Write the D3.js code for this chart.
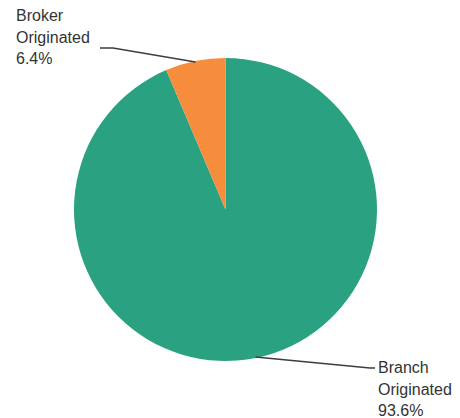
<!DOCTYPE html>
<html>
<head>
<meta charset="utf-8">
<script src="https://cdn.jsdelivr.net/npm/d3@7/dist/d3.min.js"></script>
<style>
  html, body { margin: 0; padding: 0; background: #fff; }
  svg { display: block; }
  text { font-family: "Liberation Sans", Arial, sans-serif; font-size: 16px; fill: #333; }
</style>
</head>
<body>
<svg id="chart" width="460" height="418"></svg>
<script>
// Loan origination channel share
const categories = ["Branch Originated", "Broker Originated"];
const shares = [93.6, 6.4];
const colors = ["#2aa181", "#f58d3d"];

const svg = d3.select("#chart");
const cx = 225.5, cy = 209.5, radius = 151.5;

const pie = d3.pie().sort(null).value(d => d.value);
const arcs = pie(categories.map((c, i) => ({ name: c, value: shares[i], color: colors[i] })));
const arc = d3.arc().innerRadius(0).outerRadius(radius);

const g = svg.append("g").attr("transform", `translate(${cx},${cy})`);
g.selectAll("path.slice")
  .data(arcs)
  .join("path")
  .attr("class", "slice")
  .attr("d", arc)
  .attr("fill", d => d.data.color);

// Leader lines: from slice mid-angle on the rim, out to the label
const labelLayout = [
  { lines: ["Broker", "Originated"], textX: 16, firstBaseline: 21, elbow: [113, 48], end: [100, 48], anchor: "start" },
  { lines: ["Branch", "Originated"], textX: 378, firstBaseline: 373, elbow: [370, 368], end: [375, 368], anchor: "start" }
];
const layoutFor = name => name.startsWith("Broker") ? labelLayout[0] : labelLayout[1];

const lineGen = d3.line();
arcs.forEach(d => {
  const lay = layoutFor(d.data.name);
  const mid = (d.startAngle + d.endAngle) / 2;
  const r = radius - 1;
  const p0 = [cx + r * Math.sin(mid), cy - r * Math.cos(mid)];
  svg.append("path")
    .attr("d", lineGen([p0, lay.elbow, lay.end]))
    .attr("fill", "none")
    .attr("stroke", "#3a3d42")
    .attr("stroke-width", 1.6);

  const t = svg.append("text")
    .attr("x", lay.textX)
    .attr("y", lay.firstBaseline)
    .attr("text-anchor", lay.anchor);
  const rows = lay.lines.concat([d3.format(".1f")(d.data.value) + "%"]);
  rows.forEach((s, i) => {
    t.append("tspan")
      .attr("x", lay.textX)
      .attr("dy", i === 0 ? 0 : 21.5)
      .text(s);
  });
});
</script>
</body>
</html>
